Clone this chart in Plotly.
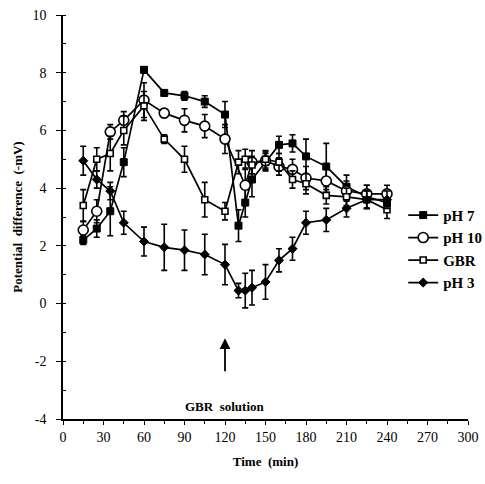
import plotly.graph_objects as go

# ---- data ----
time_min = [15, 25, 35, 45, 60, 75, 90, 105, 120, 130, 135, 140, 150, 160, 170, 180, 195, 210, 225, 240]

ph7 = [2.2, 2.6, 3.2, 4.9, 8.1, 7.3, 7.2, 7.0, 6.55, 2.7, 3.5, 4.3, 4.9, 5.5, 5.55, 5.1, 4.75, 4.05, 3.7, 3.5]
ph7_err = [0.15, 0.3, 0.85, 0.5, 0.1, 0.1, 0.15, 0.2, 0.45, 0.55, 0.5, 0.6, 0.3, 0.3, 0.3, 0.6, 0.8, 0.4, 0.4, 0.3]

ph10 = [2.55, 3.2, 5.95, 6.35, 7.05, 6.6, 6.35, 6.15, 5.7, None, 4.1, 4.9, 4.95, 4.75, 4.65, 4.35, 4.25, 3.9, 3.8, 3.8]
ph10_err = [0.3, 0.4, 0.25, 0.3, 0.6, 0.15, 0.4, 0.4, 0.5, None, 0.6, 0.4, 0.3, 0.3, 0.35, 0.4, 0.4, 0.35, 0.3, 0.3]

gbr = [3.4, 5.0, 5.2, 6.0, 6.85, 5.7, 5.0, 3.6, 3.2, 4.9, 5.0, 4.8, 5.0, 4.9, 4.3, 4.15, 3.75, 3.7, 3.6, 3.25]
gbr_err = [0.55, 0.4, 0.6, 0.5, 0.5, 0.15, 0.45, 0.6, 0.3, 0.4, 0.35, 0.3, 0.3, 0.3, 0.3, 0.35, 0.3, 0.3, 0.3, 0.3]

ph3 = [4.95, 4.3, 3.9, 2.8, 2.15, 1.95, 1.85, 1.7, 1.35, 0.45, 0.45, 0.55, 0.75, 1.5, 1.9, 2.8, 2.9, 3.3, 3.6, 3.6]
ph3_err = [0.5, 0.3, 0.3, 0.4, 0.5, 0.8, 0.7, 0.7, 0.7, 0.25, 0.6, 0.6, 0.6, 0.4, 0.4, 0.4, 0.4, 0.3, 0.3, 0.3]

x_ticks = [0, 30, 60, 90, 120, 150, 180, 210, 240, 270, 300]
y_ticks = [-4, -2, 0, 2, 4, 6, 8, 10]
y_ticktext = ["-4", "-2", "0", "2", "4", "6", "8", "10"]

SERIF = "Liberation Serif, Times New Roman, serif"

series = [
    ("pH 7", ph7, ph7_err, dict(symbol="square", size=7, color="black", line=dict(color="black", width=1))),
    ("pH 10", ph10, ph10_err, dict(symbol="circle", size=10, color="white", line=dict(color="black", width=1.6))),
    ("GBR", gbr, gbr_err, dict(symbol="square", size=6, color="white", line=dict(color="black", width=1.6))),
    ("pH 3", ph3, ph3_err, dict(symbol="diamond", size=7, color="black", line=dict(color="black", width=1))),
]

fig = go.Figure()
for name, vals, errs, marker in series:
    xs = [t for t, v in zip(time_min, vals) if v is not None]
    ys = [v for v in vals if v is not None]
    es = [e for v, e in zip(vals, errs) if v is not None]
    fig.add_trace(go.Scatter(
        x=xs, y=ys, name="<b>" + name + "</b>", mode="lines+markers",
        line=dict(color="black", width=1.7),
        marker=marker,
        error_y=dict(type="data", array=es, visible=True, color="black", thickness=1.6, width=3),
    ))

fig.add_annotation(x=120, y=-1.2, ax=120, ay=-2.4, xref="x", yref="y", axref="x", ayref="y",
                   text="", showarrow=True, arrowhead=2, arrowsize=1.2, arrowwidth=1.8, arrowcolor="black")
fig.add_annotation(x=120, y=-3.55, xref="x", yref="y", text="<b>GBR  solution</b>", showarrow=False,
                   font=dict(family=SERIF, size=13, color="black"))

fig.update_layout(
    width=485, height=484,
    margin=dict(l=63, r=17, t=15, b=65, autoexpand=False),
    paper_bgcolor="white", plot_bgcolor="white",
    font=dict(family=SERIF, size=14, color="black"),
    showlegend=True,
    legend=dict(x=0.84, y=0.545, xanchor="left", yanchor="top", bgcolor="rgba(0,0,0,0)",
                font=dict(family=SERIF, size=15, color="black"), tracegroupgap=0),
)
fig.update_xaxes(range=[0, 300], tickvals=x_ticks, showline=True, linecolor="black", linewidth=1.6,
                 ticks="outside", ticklen=4, tickwidth=1.3, tickcolor="black", showgrid=False, zeroline=False,
                 automargin=False, ticklabeloverflow="allow",
                 minor=dict(dtick=15, ticks="outside", ticklen=3, tickwidth=1, tickcolor="black", showgrid=False),
                 title=dict(text="<b>Time  (min)</b>", font=dict(family=SERIF, size=13), standoff=13),
                 tickfont=dict(family=SERIF, size=14))
fig.update_yaxes(range=[-4, 10], tickvals=y_ticks, ticktext=y_ticktext, showline=True, linecolor="black",
                 linewidth=1.6, ticks="outside", ticklen=5, tickwidth=1.3, tickcolor="black", showgrid=False,
                 zeroline=False, automargin=False, ticklabeloverflow="allow", ticklabelstandoff=7,
                 minor=dict(dtick=1, ticks="inside", ticklen=3, tickwidth=1, tickcolor="black", showgrid=False),
                 title=dict(text="<b>Potential  difference  (-mV)</b>", font=dict(family=SERIF, size=13), standoff=7),
                 tickfont=dict(family=SERIF, size=14))

# remove the default 8px page margin so the figure fills the 485x484 window exactly
fig.write_html("out.html", config={"displayModeBar": False},
               post_script="document.body.style.margin='0';document.documentElement.style.overflow='hidden';")
